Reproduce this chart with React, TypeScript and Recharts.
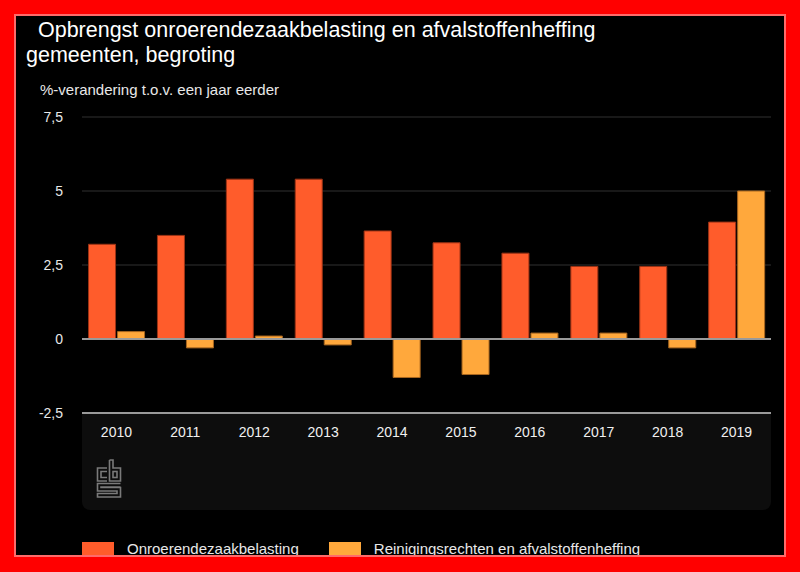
import React from "react";
import { Bar, BarChart, CartesianGrid, ReferenceLine, XAxis, YAxis } from "recharts";

const YEARS = ["2010", "2011", "2012", "2013", "2014", "2015", "2016", "2017", "2018", "2019"];
const OZB = [3.2, 3.5, 5.4, 5.4, 3.65, 3.25, 2.9, 2.45, 2.45, 3.95];
const AFVAL = [0.25, -0.3, 0.1, -0.2, -1.3, -1.2, 0.2, 0.2, -0.3, 5.0];
const Y_TICKS = [-2.5, 0, 2.5, 5, 7.5];

const SERIES = [
  { key: "ozb", name: "Onroerendezaakbelasting", fill: "#ff5c2b", stroke: "#9c3315" },
  { key: "afval", name: "Reinigingsrechten en afvalstoffenheffing", fill: "#ffa83c", stroke: "#a8661f" },
];

const data = YEARS.map((year, i) => ({ year, ozb: OZB[i], afval: AFVAL[i] }));

const FONT = '"Liberation Sans", Arial, sans-serif';

function CbsLogo() {
  return (
    <svg width={26} height={40} style={{ position: "absolute", left: 96, top: 459 }}>
      <g fill="none" stroke="#7a7a7a" strokeWidth={1.6}>
        {/* c */}
        <polyline points="11,9 1.5,9 1.5,22 11,22" />
        <polyline points="11,12.5 5,12.5 5,18.5 11,18.5" />
        {/* b */}
        <polyline points="13.5,1 13.5,22 24.5,22 24.5,9 17,9 17,1 13.5,1" />
        <rect x={17} y={12.5} width={4} height={6} />
        {/* S */}
        <polyline points="24.5,24.5 1.5,24.5 1.5,32 21,32 21,34.5 1.5,34.5 1.5,38 24.5,38 24.5,28.5 5,28.5 5,28 24.5,28" />
      </g>
    </svg>
  );
}

function ChartLegend() {
  return (
    <div
      style={{
        position: "absolute",
        left: 82,
        top: 540,
        display: "flex",
        alignItems: "center",
        fontFamily: FONT,
        fontSize: 15,
        color: "#e8e8e8",
      }}
    >
      {SERIES.map((s, i) => (
        <div key={s.key} style={{ display: "flex", alignItems: "center", marginRight: i === 0 ? 30 : 0 }}>
          <span style={{ display: "inline-block", width: 32, height: 13, background: s.fill, marginRight: 13 }} />
          <span>{s.name}</span>
        </div>
      ))}
    </div>
  );
}

export default function App() {
  return (
    <div style={{ position: "absolute", left: 0, top: 0, width: 800, height: 572, background: "#000", overflow: "hidden" }}>
      <div style={{ position: "absolute", left: 26, top: 18, fontFamily: FONT, fontSize: 21.5, lineHeight: "25px", color: "#fff", whiteSpace: "pre" }}>
        {"  Opbrengst onroerendezaakbelasting en afvalstoffenheffing\ngemeenten, begroting"}
      </div>
      <div style={{ position: "absolute", left: 40, top: 81, fontFamily: FONT, fontSize: 15, color: "#e8e8e8" }}>
        %-verandering t.o.v. een jaar eerder
      </div>
      <div style={{ position: "absolute", left: 82, top: 413, width: 689, height: 97, background: "#0d0d0d", borderRadius: "0 0 8px 8px" }} />
      <CbsLogo />
      <div style={{ position: "absolute", left: 0, top: 0 }}>
        <BarChart
          width={800}
          height={572}
          data={data}
          margin={{ top: 117, right: 29, bottom: 129, left: 22 }}
          barCategoryGap="9.5%"
          barGap={2}
        >
          <CartesianGrid vertical={false} stroke="#303030" />
          <XAxis
            dataKey="year"
            height={30}
            axisLine={{ stroke: "#9a9a9a", strokeWidth: 2 }}
            tickLine={false}
            tickSize={0}
            tickMargin={14}
            tick={{ fill: "#f0f0f0", fontSize: 14, fontFamily: FONT }}
          />
          <YAxis
            width={60}
            domain={[-2.5, 7.5]}
            ticks={Y_TICKS}
            axisLine={false}
            tickLine={false}
            tickSize={0}
            tickMargin={19}
            tick={{ fill: "#e8e8e8", fontSize: 14, fontFamily: FONT }}
            tickFormatter={(v) => String(v).replace(".", ",")}
          />
          <ReferenceLine y={0} stroke="#9a9a9a" strokeWidth={2} />
          {SERIES.map((s) => (
            <Bar
              key={s.key}
              dataKey={s.key}
              name={s.name}
              fill={s.fill}
              stroke={s.stroke}
              strokeWidth={1}
              isAnimationActive={false}
            />
          ))}
        </BarChart>
      </div>
      <ChartLegend />
      {/* red frame */}
      <div
        style={{
          position: "absolute",
          left: 0,
          top: 0,
          width: 800,
          height: 572,
          boxSizing: "border-box",
          borderStyle: "solid",
          borderColor: "#ff0000",
          borderWidth: "14px 14px 15px 14px",
          boxShadow: "inset 0 0 0 2px #ff6a6a",
          pointerEvents: "none",
        }}
      />
    </div>
  );
}
